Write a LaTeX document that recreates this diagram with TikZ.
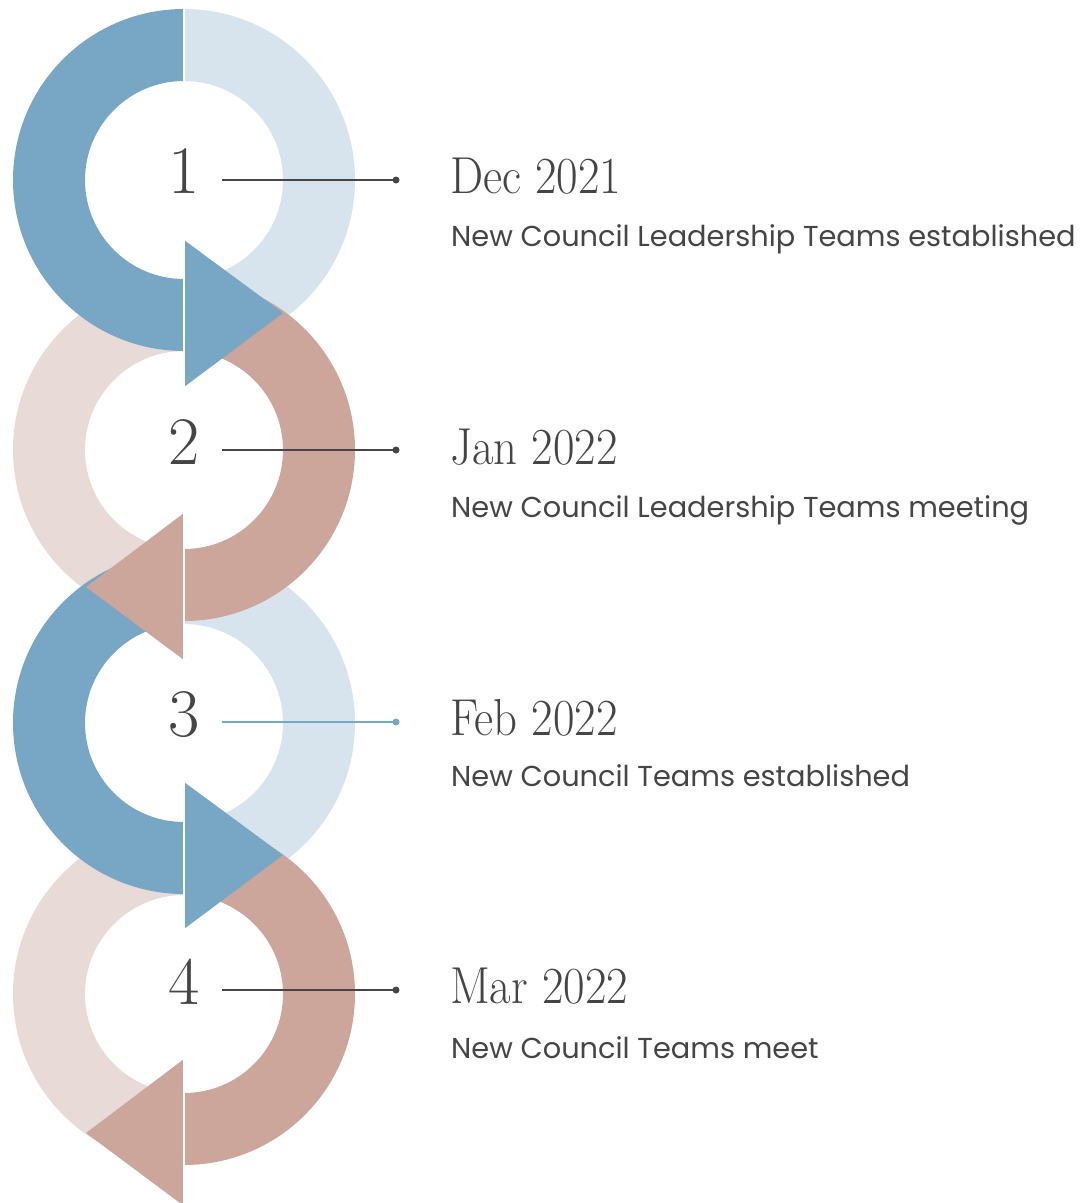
\documentclass[tikz,border=0pt]{standalone}
\usepackage{fontspec}
\usepackage{graphicx}
\newfontfamily\bodyfont{Poppins}
\definecolor{dblue}{HTML}{78A6C5}
\definecolor{lblue}{HTML}{D7E4EE}
\definecolor{dpink}{HTML}{CCA59B}
\definecolor{lpink}{HTML}{E7DAD7}
\definecolor{ink}{HTML}{454545}
\newcommand\ringhalf[4]{%
  \begin{scope}
    \clip (#3,#1-200) rectangle (#4,#1+200);
    \fill[#2,even odd rule] (184,#1) circle[radius=171pt] (184,#1) circle[radius=99pt];
  \end{scope}}
\tikzset{
  numtext/.style={font=\fontsize{68}{70}\selectfont, text=ink, anchor=base, inner sep=0pt},
  datetext/.style={font=\fontsize{52}{54}\selectfont, text=ink, anchor=base west, inner sep=0pt},
  bodytext/.style={font=\bodyfont\fontsize{28.8}{31}\selectfont, text=ink, anchor=base west, inner sep=0pt},
  conn/.style={line width=1.4pt, draw=ink},
  conndot/.style={fill=ink, circle, inner sep=0pt, minimum size=7pt},
  sep/.style={draw=white, line width=1.2pt}
}
\begin{document}
\begin{tikzpicture}[x=1pt,y=-1pt]
\useasboundingbox (0,0) rectangle (1088,1203);
\clip (0,0) rectangle (1088,1203);
% light halves
\ringhalf{180}{lblue}{184}{400}
\ringhalf{450}{lpink}{0}{184}
\ringhalf{723}{lblue}{184}{400}
\ringhalf{994}{lpink}{0}{184}
% dark halves
\ringhalf{180}{dblue}{0}{184}
\ringhalf{450}{dpink}{184}{400}
\ringhalf{723}{dblue}{0}{184}
\ringhalf{994}{dpink}{184}{400}
% arrow heads
\fill[dblue] (184,240) -- (184,387) -- (283,313) -- cycle;
\fill[dpink] (184,513) -- (184,660) -- (86,587) -- cycle;
\fill[dblue] (184,782) -- (184,929) -- (283,855) -- cycle;
\fill[dpink] (184,1059) -- (184,1206) -- (86,1133) -- cycle;
% white separator
\draw[sep] (184,0) -- (184,1203);
% numbers
\node[numtext] (n1) at (184,193) {1};
\node[numtext] (n2) at (184,464) {2};
\node[numtext] (n3) at (184,736) {3};
\node[numtext] (n4) at (184,1004) {4};
% connectors
\coordinate (s1) at (222,180);
\coordinate (s2) at (222,450);
\coordinate (s3) at (222,722);
\coordinate (s4) at (222,990);
\node[conndot] (d1) at (396,180) {};
\node[conndot] (d2) at (396,450) {};
\node[conndot, fill=dblue] (d3) at (396,722) {};
\node[conndot] (d4) at (396,990) {};
\draw[conn] (s1) -- (d1.center);
\draw[conn] (s2) -- (d2.center);
\draw[conn, draw=dblue] (s3) -- (d3.center);
\draw[conn] (s4) -- (d4.center);
% dates
\node[datetext] (t1) at (450,193) {\scalebox{0.9}[1]{Dec 2021}};
\node[datetext] (t2) at (450,464) {\scalebox{0.9}[1]{Jan 2022}};
\node[datetext] (t3) at (450,735) {\scalebox{0.9}[1]{Feb 2022}};
\node[datetext] (t4) at (450,1003) {\scalebox{0.9}[1]{Mar 2022}};
% descriptions
\node[bodytext] (b1) at (451,246) {New Council Leadership Teams established};
\node[bodytext] (b2) at (451,517) {New Council Leadership Teams meeting};
\node[bodytext] (b3) at (451,786) {New Council Teams established};
\node[bodytext] (b4) at (451,1058) {New Council Teams meet};
\end{tikzpicture}
\end{document}
